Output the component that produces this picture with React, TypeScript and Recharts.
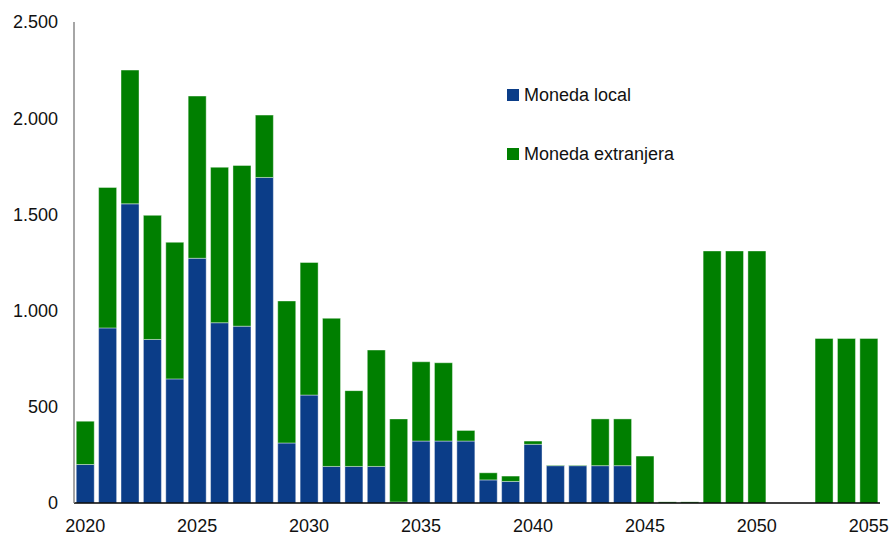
import React from "react";
import { Bar, BarChart, XAxis, YAxis } from "recharts";

const years = Array.from({ length: 36 }, (_, i) => String(2020 + i));

const monedaLocal = [
  200, 910, 1555, 850, 645, 1272, 937, 919, 1692, 312, 561, 190, 190, 190, 5, 322, 322, 322, 120, 112, 305, 194,
  194, 194, 194, 0, 0, 0, 0, 0, 0, 0, 0, 0, 0, 0,
];

const monedaExtranjera = [
  225, 730, 695, 645, 710, 843, 808, 835, 324, 738, 689, 770, 394, 605, 432, 412, 407, 55, 37, 28, 17, 3, 3, 243,
  243, 244, 6, 6, 1310, 1310, 1310, 0, 0, 855, 855, 855,
];

const yTicks = [0, 500, 1000, 1500, 2000, 2500];

const BLUE = "#0b3d88";
const GREEN = "#007f00";

const data = years.map((year, i) => ({
  year,
  local: monedaLocal[i],
  extranjera: monedaExtranjera[i],
}));

const fmt = (v: number) => v.toLocaleString("de-DE");

const legendItems = [
  { label: "Moneda local", color: BLUE },
  { label: "Moneda extranjera", color: GREEN },
];

const FONT = "'Liberation Sans', Arial, sans-serif";

export default function App() {
  return (
    <div
      style={{
        position: "absolute",
        left: 0,
        top: 0,
        width: 891,
        height: 538,
        background: "#fff",
        fontFamily: FONT,
      }}
    >
      <BarChart
        width={891}
        height={538}
        data={data}
        margin={{ top: 22, right: 11, left: 0, bottom: 0 }}
        barCategoryGap="10%"
      >
        <XAxis
          dataKey="year"
          interval={4}
          height={35}
          tickLine={false}
          tickSize={0}
          tickMargin={16}
          axisLine={{ stroke: "#000", strokeWidth: 1.5 }}
          tick={{ fill: "#111", fontSize: 18, fontFamily: FONT }}
        />
        <YAxis
          width={74}
          domain={[0, 2500]}
          ticks={yTicks}
          tickFormatter={fmt}
          tickLine={false}
          tickSize={0}
          tickMargin={16}
          axisLine={{ stroke: "#888", strokeWidth: 1.5 }}
          tick={{ fill: "#111", fontSize: 18, fontFamily: FONT }}
        />
        <Bar
          dataKey="local"
          stackId="a"
          fill={BLUE}
          stroke="rgba(255,255,255,0.5)"
          strokeWidth={0.8}
          isAnimationActive={false}
        />
        <Bar
          dataKey="extranjera"
          stackId="a"
          fill={GREEN}
          stroke="rgba(255,255,255,0.5)"
          strokeWidth={0.8}
          isAnimationActive={false}
        />
      </BarChart>
      <div style={{ position: "absolute", left: 507, top: 83 }}>
        {legendItems.map((it) => (
          <div key={it.label} style={{ display: "flex", alignItems: "center", height: 24, marginBottom: 35 }}>
            <span style={{ width: 12, height: 12, background: it.color, display: "inline-block", marginRight: 5 }} />
            <span style={{ fontSize: 18, color: "#111" }}>{it.label}</span>
          </div>
        ))}
      </div>
    </div>
  );
}
